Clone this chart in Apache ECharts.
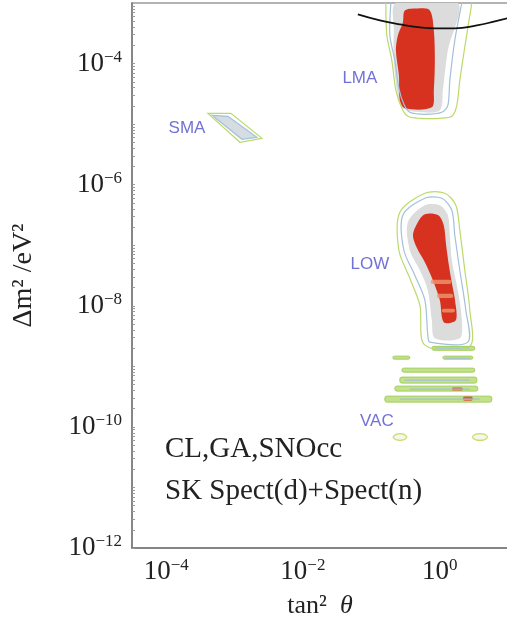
<!DOCTYPE html>
<html>
<head>
<meta charset="utf-8">
<script src="https://cdn.jsdelivr.net/npm/echarts@6/dist/echarts.min.js"></script>
<style>html,body{margin:0;padding:0;background:#fff;}#c{width:507px;height:620px;}</style>
</head>
<body>
<div id="c"></div>
<script>
// All coordinates are log10(tan^2 theta), log10(dm^2 / eV^2)
const xTicks = [-4, -2, 0];
const yTicks = [-12, -10, -8, -6, -4];

// LMA region
const lmaGreen = [[-0.787,-3.0],[-0.772,-3.535],[-0.699,-3.947],[-0.640,-4.442],[-0.553,-4.739],[-0.465,-4.871],[-0.289,-4.904],[0.003,-4.904],[0.178,-4.871],[0.251,-4.690],[0.295,-4.277],[0.383,-3.617],[0.471,-3.0]];
const lmaBlue = [[-0.713,-3.0],[-0.728,-3.535],[-0.655,-3.947],[-0.596,-4.409],[-0.523,-4.673],[-0.436,-4.805],[-0.216,-4.838],[0.032,-4.805],[0.120,-4.690],[0.149,-4.277],[0.222,-3.617],[0.325,-3.0]];
const lmaGray = [[-0.640,-3.0],[-0.670,-3.452],[-0.670,-3.947],[-0.611,-4.525],[-0.538,-4.739],[-0.289,-4.805],[0.003,-4.772],[0.047,-4.442],[0.120,-3.782],[0.266,-3.0]];
const lmaRed = [[-0.509,-3.122],[-0.319,-3.089],[-0.143,-3.122],[-0.085,-3.452],[-0.070,-3.947],[-0.085,-4.442],[-0.114,-4.723],[-0.509,-4.739],[-0.582,-4.607],[-0.596,-4.195],[-0.640,-3.782],[-0.611,-3.535],[-0.538,-3.320]];

// SMA region
const smaGreen = [[-3.389,-4.822],[-3.053,-4.822],[-2.599,-5.234],[-2.921,-5.300]];
const smaFill = [[-3.330,-4.855],[-3.096,-4.871],[-2.673,-5.218],[-2.892,-5.251]];

// LOW region
const lowGreen = [[-0.216,-6.142],[0.076,-6.142],[0.237,-6.340],[0.295,-6.752],[0.368,-7.413],[0.442,-8.073],[0.442,-8.667],[-0.216,-8.650],[-0.289,-7.990],[-0.436,-7.545],[-0.596,-7.083],[-0.582,-6.455]];
const lowBlue = [[-0.216,-6.224],[0.032,-6.224],[0.178,-6.422],[0.222,-6.835],[0.295,-7.413],[0.383,-8.073],[0.412,-8.601],[-0.143,-8.601],[-0.173,-8.485],[-0.216,-7.908],[-0.363,-7.495],[-0.523,-7.083],[-0.538,-6.505]];
const lowGray = [[-0.216,-6.340],[0.003,-6.340],[0.120,-6.505],[0.149,-6.835],[0.178,-7.248],[0.266,-7.743],[0.325,-8.238],[0.295,-8.535],[-0.070,-8.535],[-0.114,-8.238],[-0.173,-7.743],[-0.289,-7.413],[-0.436,-7.083],[-0.465,-6.620]];
const lowRed = [[-0.319,-6.620],[-0.216,-6.488],[-0.020,-6.505],[0.060,-6.670],[0.095,-7.000],[0.135,-7.330],[0.185,-7.660],[0.225,-7.908],[0.237,-8.238],[0.061,-8.271],[0.003,-7.908],[-0.099,-7.578],[-0.216,-7.281],[-0.330,-7.050],[-0.390,-6.835]];
// lighter bands inside lower LOW red: [x0, x1, y0, y1]
const lowLightBands = [[-0.130,0.170,-7.640,-7.570],[-0.040,0.200,-7.870,-7.800],[0.030,0.225,-8.110,-8.050]];

// quasi-vacuum stripes: [x0, x1, y0, y1]
const vacGreenBands = [[-0.114,0.515,-8.735,-8.670],[-0.684,-0.436,-8.881,-8.832],[0.047,0.485,-8.881,-8.832],[-0.553,0.515,-9.096,-9.030],[-0.582,0.544,-9.277,-9.178],[-0.655,0.558,-9.409,-9.327],[-0.801,0.763,-9.591,-9.492]];
// blue lines inside stripes: [x0, x1, y]
const vacBlueLines = [[-0.070,0.442,-8.700],[0.076,0.442,-8.865],[-0.509,0.442,-9.228],[-0.436,0.442,-9.376],[-0.582,0.588,-9.541]];
const vacRedBits = [[0.178,0.339,-9.400,-9.350],[0.339,0.485,-9.570,-9.500]];
// VAC islands
const vacIsland1 = [[-0.680,-10.168],[-0.630,-10.120],[-0.530,-10.120],[-0.480,-10.168],[-0.530,-10.215],[-0.630,-10.215]];
const vacIsland2 = [[0.480,-10.168],[0.530,-10.120],[0.650,-10.120],[0.700,-10.168],[0.650,-10.215],[0.530,-10.215]];

// upper bound curve
const boundCurve = [[-1.196,-3.188],[-0.874,-3.287],[-0.582,-3.353],[-0.289,-3.403],[-0.070,-3.419],[0.222,-3.419],[0.544,-3.370],[0.807,-3.304],[1.0,-3.250]];

// region labels
const regionLabels = [[-1.167,-4.244,'LMA'],[-3.696,-5.069,'SMA'],[-1.020,-7.314,'LOW'],[-0.918,-9.904,'VAC']];

const SERIF = '"Liberation Serif", "DejaVu Serif", serif';

function polySeries(polys, style, closed, z, smooth) {
  return {
    type: 'custom', coordinateSystem: 'cartesian2d', silent: true, clip: true, z: z || 2,
    data: polys.map((p, i) => [p[0][0], p[0][1], i]),
    encode: {x: 0, y: 1},
    renderItem: function (params, api) {
      const pts = polys[params.dataIndex].map(p => api.coord(p));
      return {type: closed ? 'polygon' : 'polyline', shape: {points: pts, smooth: smooth == null ? 0.3 : smooth}, style: style};
    }
  };
}
function rectSeries(rects, style, z) {
  return {
    type: 'custom', coordinateSystem: 'cartesian2d', silent: true, clip: true, z: z || 3,
    data: rects.map((r, i) => [r[0], r[2], i]),
    encode: {x: 0, y: 1},
    renderItem: function (params, api) {
      const r = rects[params.dataIndex];
      const a = api.coord([r[0], r[3]]);
      const b = api.coord([r[1], r[2]]);
      return {type: 'rect', shape: {x: a[0], y: a[1], width: b[0] - a[0], height: b[1] - a[1], r: 2}, style: style};
    }
  };
}
function hlineSeries(lines, style, z) {
  return {
    type: 'custom', coordinateSystem: 'cartesian2d', silent: true, clip: true, z: z || 4,
    data: lines.map((l, i) => [l[0], l[2], i]),
    encode: {x: 0, y: 1},
    renderItem: function (params, api) {
      const l = lines[params.dataIndex];
      const a = api.coord([l[0], l[2]]);
      const b = api.coord([l[1], l[2]]);
      return {type: 'line', shape: {x1: a[0], y1: a[1], x2: b[0], y2: b[1]}, style: style};
    }
  };
}

const minorY = [];
for (let n = -12; n < -3; n++) {
  for (let k = 1; k <= 9; k++) {
    const v = n + Math.log10(k);
    if (v <= -3) minorY.push(v);
  }
}

function expLabel(v) {
  const e = Math.round(v);
  const s = e < 0 ? '\u2212' + (-e) : '' + e;
  return '{b|10}{s|' + s + '}';
}
const labelRich = {
  b: {fontSize: 27, fontFamily: SERIF, color: '#222', lineHeight: 30},
  s: {fontSize: 17, fontFamily: SERIF, color: '#222', lineHeight: 12, verticalAlign: 'top'}
};

const GREEN = '#bcd96a';
const BLUE = '#a3c0da';
const RED = '#d6321f';
const GRAY = '#dcdcdc';

const option = {
  backgroundColor: '#fff',
  animation: false,
  grid: {left: 132, top: 3, width: 376, height: 545, show: true, borderColor: '#9a9a9a', borderWidth: 1.5, containLabel: false, outerBoundsMode: 'none'},
  xAxis: {
    type: 'value', min: -4.5, max: 1,
    axisLine: {show: true, onZero: false, lineStyle: {color: '#777', width: 1.5}},
    axisTick: {show: false},
    splitLine: {show: false},
    axisLabel: {customValues: xTicks, formatter: expLabel, rich: labelRich, margin: 9},
    name: '{a|tan\u00b2  }{i|\u03b8}', nameLocation: 'middle', nameGap: 45,
    nameTextStyle: {rich: {a: {fontSize: 26, fontFamily: SERIF, color: '#222'}, i: {fontSize: 26, fontFamily: SERIF, fontStyle: 'italic', color: '#222'}}}
  },
  yAxis: {
    type: 'value', min: -12, max: -3,
    axisLine: {show: true, onZero: false, lineStyle: {color: '#777', width: 1.5}},
    axisTick: {show: true, inside: true, length: 3, customValues: minorY, lineStyle: {color: '#999', width: 1}},
    splitLine: {show: false},
    axisLabel: {customValues: yTicks, formatter: expLabel, rich: labelRich, margin: 10},
    name: '\u0394m\u00b2 /eV\u00b2', nameLocation: 'middle', nameRotate: 90, nameGap: 94,
    nameTextStyle: {fontSize: 28, fontFamily: SERIF, color: '#222'}
  },
  graphic: [
    {type: 'text', left: 165, top: 435, style: {text: 'CL,GA,SNOcc', font: '29px "Liberation Serif"', fill: '#222'}},
    {type: 'text', left: 165, top: 477, style: {text: 'SK Spect(d)+Spect(n)', font: '29px "Liberation Serif"', fill: '#222'}}
  ],
  series: [
    polySeries([lmaGray, lowGray], {fill: GRAY, stroke: BLUE, lineWidth: 0}, true, 2),
    polySeries([smaFill], {fill: '#d6dde2', stroke: BLUE, lineWidth: 1.2}, true, 2, 0),
    polySeries([lmaRed, lowRed], {fill: RED, stroke: 'none'}, true, 3),
    rectSeries(lowLightBands, {fill: 'rgba(238,150,110,0.8)'}, 4),
    rectSeries(vacGreenBands, {fill: '#c4e08a', stroke: '#9fcf5a', lineWidth: 1}, 3),
    rectSeries(vacRedBits, {fill: 'rgba(214,60,40,0.8)'}, 4),
    hlineSeries(vacBlueLines, {stroke: BLUE, lineWidth: 1.2}, 5),
    polySeries([lmaBlue], {fill: 'none', stroke: BLUE, lineWidth: 1.2}, false, 5),
    polySeries([lowBlue], {fill: 'none', stroke: BLUE, lineWidth: 1.2}, true, 5),
    polySeries([lmaGreen], {fill: 'none', stroke: GREEN, lineWidth: 1.2}, false, 5),
    polySeries([lowGreen], {fill: 'none', stroke: GREEN, lineWidth: 1.2}, true, 5),
    polySeries([smaGreen], {fill: 'none', stroke: GREEN, lineWidth: 1.2}, true, 5, 0),
    polySeries([vacIsland1, vacIsland2], {fill: '#f4f8e4', stroke: '#c8dc70', lineWidth: 1.2}, true, 5),
    {
      type: 'line', data: boundCurve, showSymbol: false, smooth: true, silent: true, z: 6,
      lineStyle: {color: '#111', width: 1.8}
    },
    {
      type: 'scatter', data: regionLabels, symbolSize: 0, silent: true, z: 7,
      label: {show: true, position: 'inside', formatter: p => p.value[2], color: '#4d4dcc', fontSize: 17, fontFamily: '"Liberation Sans", Arial, sans-serif'}
    }
  ]
};

const chart = echarts.init(document.getElementById('c'), null, {renderer: 'canvas'});
chart.setOption(option);
</script>
</body>
</html>
